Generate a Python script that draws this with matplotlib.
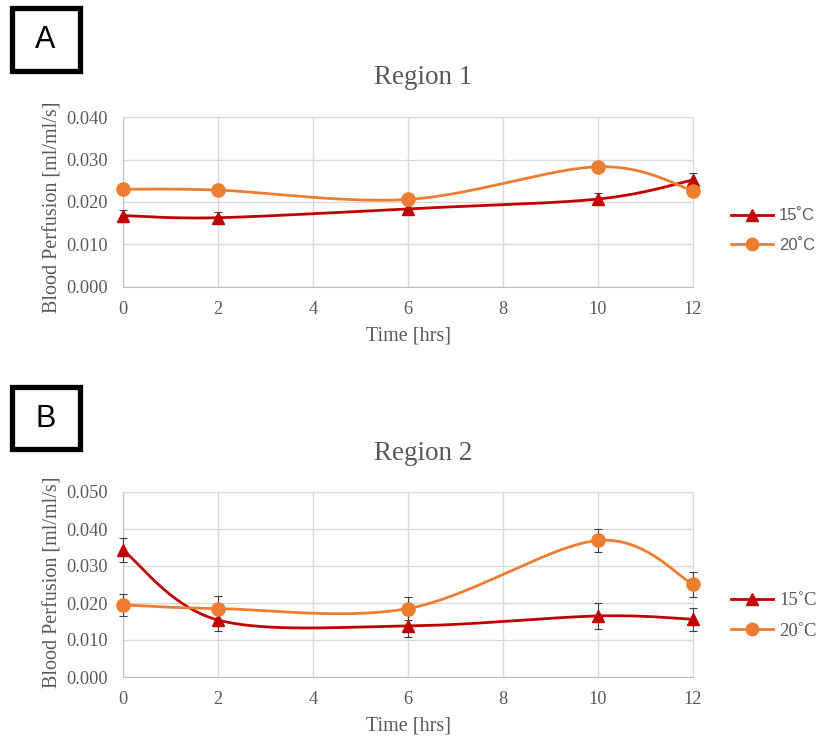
import numpy as np
import matplotlib
matplotlib.use("Agg")
import matplotlib.pyplot as plt
from matplotlib.patches import Rectangle
from matplotlib.lines import Line2D

hours = [0, 2, 6, 10, 12]
r1_15 = [0.0168, 0.0163, 0.0184, 0.0207, 0.0252]
r1_20 = [0.0230, 0.0228, 0.0206, 0.0283, 0.0227]
r1_15_err = [0.0014, 0.0014, 0.0012, 0.0015, 0.0016]
r1_20_err = [0.0010, 0.0012, 0.0012, 0.0012, 0.0013]
r2_15 = [0.0343, 0.0154, 0.0138, 0.0165, 0.0156]
r2_20 = [0.0195, 0.0185, 0.0185, 0.0369, 0.0251]
r2_15_err = [0.0033, 0.0031, 0.0030, 0.0034, 0.0031]
r2_20_err = [0.0030, 0.0034, 0.0030, 0.0030, 0.0034]
series_labels = ["15\u02daC", "20\u02daC"]
titles = ["Region 1", "Region 2"]
panel_letters = ["A", "B"]

C15 = "#C00000"
C20 = "#ED7D31"
GRID = "#D9D9D9"
TXT = "#595959"
SERIF = "Liberation Serif"


def excel_smooth(xs, ys, n=40):
    xs = np.asarray(xs, float)
    ys = np.asarray(ys, float)
    P = np.column_stack([xs, ys])
    out = []
    m = len(P)
    for i in range(m - 1):
        p0 = P[i - 1] if i > 0 else P[i]
        p1 = P[i]
        p2 = P[i + 1]
        p3 = P[i + 2] if i + 2 < m else P[i + 1]
        c1 = p1 + (p2 - p0) / 6.0
        c2 = p2 - (p3 - p1) / 6.0
        t = np.linspace(0, 1, n)[:, None]
        seg = ((1 - t) ** 3) * p1 + 3 * ((1 - t) ** 2) * t * c1 + 3 * (1 - t) * t ** 2 * c2 + t ** 3 * p2
        if i > 0:
            seg = seg[1:]
        out.append(seg)
    out = np.vstack(out)
    return out[:, 0], out[:, 1]


fig = plt.figure(figsize=(8.19, 7.40), dpi=100)

panels = [
    dict(rect=[123 / 819, 1 - 287 / 740, 570 / 819, 170 / 740], ymax=0.040,
         s15=r1_15, s20=r1_20, e15=r1_15_err, e20=r1_20_err,
         title_y=1 - 77 / 740, box=(11.5, 8.5, 68, 62), leg_y=(215, 246),
         leg_font=("Liberation Sans", 12), ylab_y=207),
    dict(rect=[123 / 819, 1 - 677 / 740, 570 / 819, 185 / 740], ymax=0.050,
         s15=r2_15, s20=r2_20, e15=r2_15_err, e20=r2_20_err,
         title_y=1 - 453 / 740, box=(11.5, 387.5, 68, 62), leg_y=(600, 632),
         leg_font=(SERIF, 13.5), ylab_y=582),
]

for k, p in enumerate(panels):
    ax = fig.add_axes(p["rect"])
    ax.set_xlim(0, 12)
    ax.set_ylim(0, p["ymax"])
    ax.set_xticks(np.arange(0, 13, 2))
    ax.set_yticks(np.arange(0, p["ymax"] + 1e-9, 0.01))
    ax.yaxis.set_major_formatter(matplotlib.ticker.FormatStrFormatter("%.3f"))
    ax.grid(True, color=GRID, linewidth=1.0)
    ax.set_axisbelow(True)
    for s in ax.spines.values():
        s.set_color(GRID)
    ax.spines["left"].set_color("#BFBFBF")
    ax.spines["bottom"].set_color("#BFBFBF")
    ax.tick_params(length=0, colors=TXT, labelsize=13.2)
    ax.tick_params(axis="y", pad=11)
    ax.tick_params(axis="x", pad=10)
    for lab in ax.get_xticklabels() + ax.get_yticklabels():
        lab.set_fontfamily(SERIF)
    ax.set_xlabel("Time [hrs]", fontsize=14.5, color=TXT, fontfamily=SERIF, labelpad=6)
    ax.set_ylabel("Blood Perfusion [ml/ml/s]", fontsize=14.5, color=TXT, fontfamily=SERIF)
    ax.yaxis.set_label_coords(63 / 819, 1 - p["ylab_y"] / 740, transform=fig.transFigure)

    for vals, errs, col, mk, ms in [(p["s15"], p["e15"], C15, "^", 9),
                                     (p["s20"], p["e20"], C20, "o", 9.5)]:
        sx, sy = excel_smooth(hours, vals)
        ax.plot(sx, sy, color=col, linewidth=2.0, zorder=3, clip_on=False)
        ax.errorbar(hours, vals, yerr=errs, fmt="none", ecolor="#404040",
                    elinewidth=0.8, capsize=3, capthick=0.8, zorder=4, clip_on=False)
        ax.plot(hours, vals, linestyle="none", marker=mk, markersize=ms, color=col,
                zorder=5, clip_on=False)

    fig.text(423 / 819, p["title_y"], titles[k], ha="center", va="center",
             fontsize=19.5, color=TXT, fontfamily=SERIF)

    # legend
    fam, fsz = p["leg_font"]
    handles = [Line2D([], [], color=C15, marker="^", markersize=8.5, linewidth=2.0),
               Line2D([], [], color=C20, marker="o", markersize=9, linewidth=2.0)]
    hl = 30.0 / fsz
    gap = (p["leg_y"][1] - p["leg_y"][0]) * 0.72 / fsz - 1.0
    leg = fig.legend(handles, series_labels, loc="center left",
                     bbox_to_anchor=(731 / 819, 1 - (sum(p["leg_y"]) / 2) / 740),
                     frameon=False, prop={"family": fam, "size": fsz},
                     handlelength=hl, labelspacing=gap,
                     handletextpad=4.5 / fsz, borderaxespad=0, borderpad=0)
    for t in leg.get_texts():
        t.set_color(TXT)

    # panel letter box
    bx, by, bw, bh = p["box"]
    fig.patches.append(Rectangle((bx / 819, 1 - (by + bh) / 740), bw / 819, bh / 740,
                                 transform=fig.transFigure, fill=False,
                                 edgecolor="black", linewidth=3.8))
    fig.text((bx + bw / 2) / 819, 1 - (by + bh / 2) / 740, panel_letters[k],
             ha="center", va="center", fontsize=22, color="black",
             fontfamily="Liberation Sans")

fig.savefig("out.png", dpi=100, facecolor="white")
